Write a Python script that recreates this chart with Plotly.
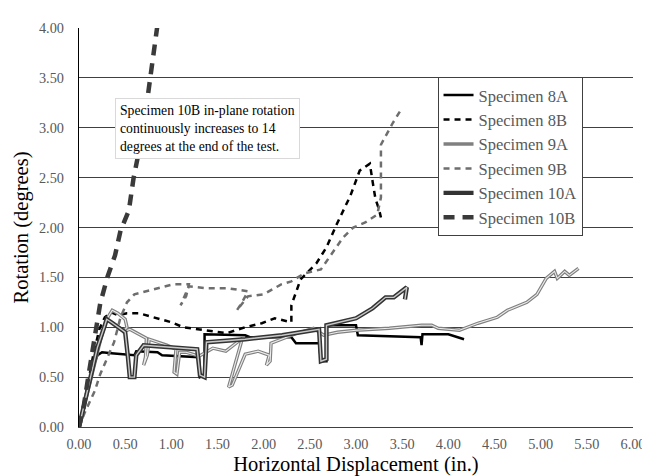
import plotly.graph_objects as go

# ---------------- data ----------------
x_8a = [0, 0.05, 0.1, 0.15, 0.2, 0.25, 0.35, 0.5, 0.6, 0.62, 0.85, 0.9, 1.2, 1.3, 1.31, 1.36, 1.36,
        1.8, 1.85, 2.3, 2.35, 2.6, 2.62, 2.68, 2.68, 3.0, 3.02, 3.5, 3.7, 3.71, 3.72, 4.0, 4.17]
y_8a = [0, 0.2, 0.42, 0.6, 0.72, 0.75, 0.74, 0.73, 0.72, 0.76, 0.75, 0.72, 0.71, 0.70, 0.5, 0.52, 0.93,
        0.92, 0.90, 0.90, 0.84, 0.84, 0.66, 0.66, 1.02, 1.02, 0.92, 0.91, 0.90, 0.82, 0.93, 0.93, 0.88]

x_8b = [0, 0.08, 0.15, 0.22, 0.28, 0.35, 0.42, 0.52, 0.65, 0.84, 1.0, 1.13, 1.34, 1.6, 1.8, 1.98,
        2.12, 2.3, 2.3, 2.4, 2.57, 2.68, 2.79, 2.94, 3.04, 3.15, 3.18, 3.21, 3.25, 3.27]
y_8b = [0, 0.35, 0.7, 0.98, 1.1, 1.15, 1.12, 1.14, 1.14, 1.09, 1.05, 1.0, 0.97, 0.94, 1.0, 1.04,
        1.09, 1.05, 1.22, 1.48, 1.64, 1.8, 2.03, 2.32, 2.57, 2.64, 2.46, 2.29, 2.18, 2.1]

x_9a = [0, 0.08, 0.16, 0.24, 0.3, 0.36, 0.42, 0.5, 0.52, 0.47, 0.55, 0.73, 0.72, 0.7, 0.74, 0.76,
        0.95, 1.05, 1.03, 1.06, 1.09, 1.16, 1.3, 1.45, 1.59, 1.77, 1.62, 1.66, 1.8, 1.94, 2.06, 2.03,
        2.07, 2.08, 2.36, 2.54, 2.65, 2.8, 3.0, 3.36, 3.71, 3.82, 3.89, 4.12, 4.32, 4.53, 4.64, 4.85,
        4.96, 5.06, 5.15, 5.18, 5.26, 5.31, 5.41]
y_9a = [0, 0.3, 0.6, 0.9, 1.08, 1.17, 1.14, 1.08, 1.0, 0.95, 0.98, 0.89, 0.7, 0.62, 0.72, 0.88,
        0.82, 0.78, 0.55, 0.53, 0.75, 0.75, 0.71, 0.79, 0.76, 0.89, 0.4, 0.42, 0.73, 0.76, 0.72, 0.62,
        0.66, 0.84, 0.94, 0.99, 0.92, 0.95, 0.97, 0.99, 1.02, 1.02, 0.99, 0.97, 1.04, 1.1, 1.17, 1.25,
        1.33, 1.49, 1.56, 1.49, 1.56, 1.52, 1.59]

x_9b = [0, 0.06, 0.17, 0.23, 0.31, 0.38, 0.45, 0.52, 0.6, 0.8, 1.02, 1.19, 1.16, 1.1, 1.19, 1.4,
        1.62, 1.83, 1.76, 1.71, 1.83, 2.0, 2.19, 2.3, 2.44, 2.62, 2.76, 2.86, 2.97, 3.1, 3.23, 3.27,
        3.27, 3.4, 3.5]
y_9b = [0, 0.14, 0.36, 0.53, 0.7, 0.85, 1.1, 1.25, 1.33, 1.38, 1.43, 1.43, 1.31, 1.22, 1.41, 1.39,
        1.39, 1.36, 1.24, 1.17, 1.31, 1.33, 1.43, 1.46, 1.54, 1.58, 1.77, 1.9, 2.0, 2.05, 2.13, 2.3,
        2.83, 3.05, 3.2]

x_10a = [0, 0.1, 0.2, 0.28, 0.3, 0.35, 0.5, 0.53, 0.55, 0.6, 0.62, 0.7, 1.0, 1.28, 1.31, 1.36, 1.38,
         1.8, 2.2, 2.6, 2.62, 2.68, 2.68, 3.0, 3.18, 3.32, 3.41, 3.55, 3.53]
y_10a = [0, 0.4, 0.8, 1.02, 1.08, 1.05, 0.95, 0.7, 0.5, 0.5, 0.72, 0.82, 0.8, 0.78, 0.52, 0.5, 0.85,
         0.88, 0.92, 0.98, 0.66, 0.68, 1.02, 1.09, 1.19, 1.3, 1.3, 1.4, 1.28]

x_10b = [0, 0.05, 0.1, 0.15, 0.2, 0.23, 0.31, 0.39, 0.45, 0.54, 0.59, 0.63, 0.7, 0.76, 0.86]
y_10b = [0, 0.2, 0.5, 0.8, 1.05, 1.24, 1.51, 1.72, 1.97, 2.17, 2.49, 2.69, 3.0, 3.42, 4.1]

x_ticks = [0, 0.5, 1, 1.5, 2, 2.5, 3, 3.5, 4, 4.5, 5, 5.5, 6]
y_ticks = [0, 0.5, 1, 1.5, 2, 2.5, 3, 3.5, 4]

note_text = ("Specimen 10B in-plane rotation<br>continuously increases to 14<br>"
             "degrees at the end of the test.")

SERIF = "Liberation Serif"

fig = go.Figure()

# Specimen 8A
fig.add_trace(go.Scatter(x=x_8a, y=y_8a, mode="lines", name="Specimen 8A",
                         line=dict(color="#000000", width=2.5)))
# Specimen 8B
fig.add_trace(go.Scatter(x=x_8b, y=y_8b, mode="lines", name="Specimen 8B",
                         line=dict(color="#000000", width=2.5, dash="6px,5px")))
# Specimen 9A (outlined gray line)
fig.add_trace(go.Scatter(x=x_9a, y=y_9a, mode="lines", name="Specimen 9A",
                         line=dict(color="#808080", width=3.4)))
fig.add_trace(go.Scatter(x=x_9a, y=y_9a, mode="lines", showlegend=False, hoverinfo="skip",
                         line=dict(color="#ececec", width=1.1)))
# Specimen 9B
fig.add_trace(go.Scatter(x=x_9b, y=y_9b, mode="lines", name="Specimen 9B",
                         line=dict(color="#6e6e6e", width=2.5, dash="6px,5px")))
# Specimen 10A (outlined dark line)
fig.add_trace(go.Scatter(x=x_10a, y=y_10a, mode="lines", name="Specimen 10A",
                         line=dict(color="#333333", width=4.4)))
fig.add_trace(go.Scatter(x=x_10a, y=y_10a, mode="lines", showlegend=False, hoverinfo="skip",
                         line=dict(color="#c8c8c8", width=1.4)))
# Specimen 10B
fig.add_trace(go.Scatter(x=x_10b, y=y_10b, mode="lines", name="Specimen 10B",
                         line=dict(color="#3a3a3a", width=4.5, dash="11px,8px")))

fig.add_annotation(text=note_text, xref="paper", yref="paper",
                   x=(108 - 71) / 564, y=(424 - 88) / 408, xanchor="left", yanchor="top",
                   showarrow=False, align="left",
                   font=dict(family=SERIF, size=13.7, color="#000000"),
                   bgcolor="#ffffff", bordercolor="#d9d9d9", borderwidth=1, borderpad=4)

fig.update_layout(
    width=650, height=476,
    margin=dict(l=71, r=15, t=16, b=52),
    paper_bgcolor="#ffffff", plot_bgcolor="#ffffff",
    font=dict(family=SERIF, color="#595959"),
    showlegend=True,
    legend=dict(x=(436 - 71) / 564, y=(424 - 66) / 408, xanchor="left", yanchor="top",
                bgcolor="#ffffff", bordercolor="#404040", borderwidth=1,
                font=dict(family=SERIF, size=16.5, color="#595959"),
                itemwidth=30, tracegroupgap=0),
    xaxis=dict(range=[0, 6], tickvals=x_ticks, tickformat=".2f",
               showgrid=False, zeroline=False, showline=True, linecolor="#404040", linewidth=1.3,
               ticks="", ticklabelstandoff=4,
               tickfont=dict(family=SERIF, size=14.3, color="#595959"),
               title=dict(text="Horizontal Displacement (in.)", standoff=5,
                          font=dict(family=SERIF, size=20.5, color="#000000"))),
    yaxis=dict(range=[0, 4], tickvals=y_ticks, tickformat=".2f",
               showgrid=True, gridcolor="#404040", gridwidth=1.3, zeroline=False,
               showline=True, linecolor="#000000", linewidth=1.3, mirror=False,
               ticks="", ticklabelstandoff=11,
               tickfont=dict(family=SERIF, size=14.3, color="#595959"),
               title=dict(text="Rotation (degrees)", standoff=4,
                          font=dict(family=SERIF, size=20.5, color="#000000"))),
)

fig.write_html("out.html")
